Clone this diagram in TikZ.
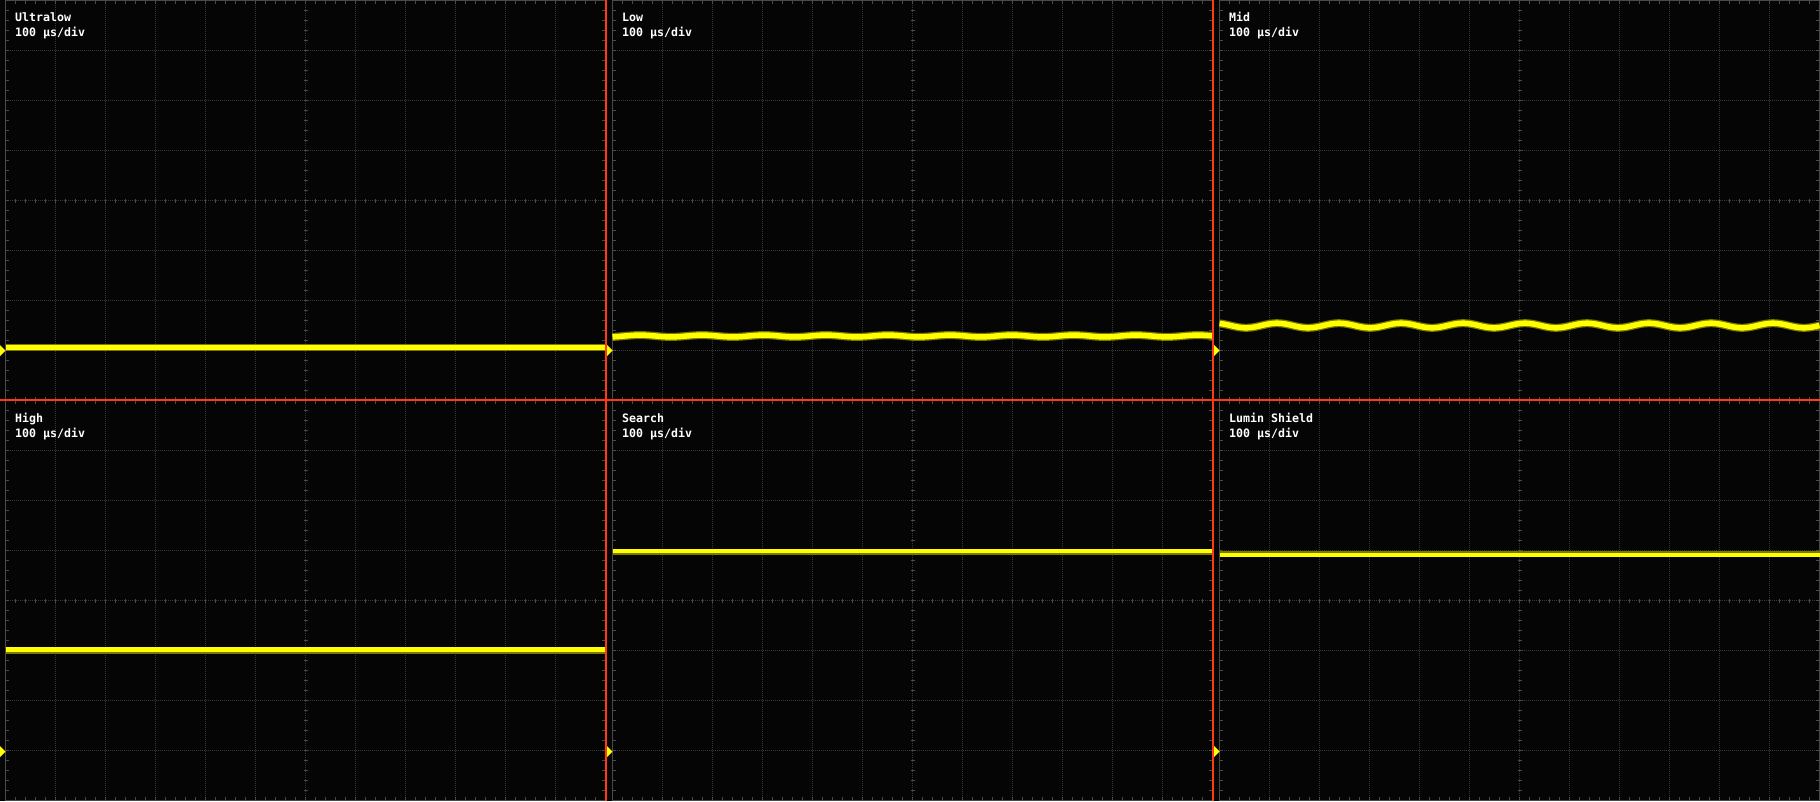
\documentclass[tikz,border=0pt]{standalone}
\usepackage{fontspec}
\newfontfamily\scopefont{DejaVu Sans Mono}
\definecolor{bg}{HTML}{050505}
\definecolor{gridc}{HTML}{363636}
\definecolor{edgec}{HTML}{4A4A4A}
\definecolor{redl}{HTML}{FF3A12}
\definecolor{tracec}{HTML}{FFFF00}
\definecolor{tracedim}{HTML}{7A7A00}
\definecolor{txtc}{HTML}{FFFFFF}
\tikzset{
  gridline/.style={draw=gridc, line width=1pt, dash pattern=on 1pt off 1pt},
  edgeline/.style={draw=edgec, line width=1pt},
  tickline/.style={draw=edgec, line width=1pt},
  divline/.style={draw=redl, line width=1.6pt},
  lbl/.style={anchor=base west, inner sep=0pt, text=txtc, font=\scopefont\bfseries\fontsize{11.6}{14}\selectfont},
  bright/.style={draw=tracec, line width=#1},
  dim/.style={draw=tracedim, line width=#1},
  gndmark/.style={fill=tracec},
}
\newcommand\oscpanel[2]{%
  \draw[gridline] \foreach \k in {1,...,11} { ({#1+50*\k},{#2}) -- ({#1+50*\k},{#2+400}) };
  \draw[gridline] \foreach \k in {1,...,7} { ({#1},{#2+50*\k}) -- ({#1+600},{#2+50*\k}) };
  \draw[tickline] \foreach \k in {1,...,59} {
      ({#1+10*\k},{#2}) -- ++(0,3.5)
      ({#1+10*\k},{#2+400}) -- ++(0,-3.5)
      ({#1+10*\k},{#2+198}) -- ++(0,4) };
  \draw[tickline] \foreach \k in {1,...,39} {
      ({#1},{#2+10*\k}) -- ++(3.5,0)
      ({#1+600},{#2+10*\k}) -- ++(-3.5,0)
      ({#1+298},{#2+10*\k}) -- ++(4,0) };
  \draw[edgeline] ({#1},{#2}) rectangle ({#1+600},{#2+400});
}
\begin{document}
\begin{tikzpicture}[x=1pt,y=-1pt]
\useasboundingbox (0,0) rectangle (1820,801);
\fill[bg] (0,0) rectangle (1820,801);
% panels
\oscpanel{5.5}{0.5}
\oscpanel{612.5}{0.5}
\oscpanel{1219.5}{0.5}
\oscpanel{5.5}{400.5}
\oscpanel{612.5}{400.5}
\oscpanel{1219.5}{400.5}
% traces
\draw[dim=7pt] (5.5,347) -- (605.5,347);
\draw[bright=5pt] (5.5,347) -- (605.5,347);
\draw[dim=8pt] plot[domain=612.5:1212.5, samples=250] (\x, {336 - 0.9*cos(5.80645*(\x-640))});
\draw[bright=5.5pt] plot[domain=612.5:1212.5, samples=250] (\x, {336 - 0.9*cos(5.80645*(\x-640))});
\draw[dim=8pt] plot[domain=1219.5:1819.5, samples=300] (\x, {325.5 - 2.3*cos(5.80645*(\x-1277))});
\draw[bright=5.5pt] plot[domain=1219.5:1819.5, samples=300] (\x, {325.5 - 2.3*cos(5.80645*(\x-1277))});
\draw[dim=6pt] (5.5,650.5) -- (605.5,650.5);
\draw[bright=4.5pt] (5.5,649.5) -- (605.5,649.5);
\draw[dim=6pt] (612.5,552) -- (1212.5,552);
\draw[bright=4pt] (612.5,551) -- (1212.5,551);
\draw[dim=6pt] (1219.5,553.5) -- (1819.5,553.5);
\draw[bright=4pt] (1219.5,554.8) -- (1819.5,554.8);
% dividers
\coordinate (vtop1) at (606,0);
\coordinate (vbot1) at (606,801);
\coordinate (vtop2) at (1213.2,0);
\coordinate (vbot2) at (1213.2,801);
\coordinate (hl) at (0,400);
\coordinate (hr) at (1820,400);
\draw[divline] (vtop1) -- (vbot1);
\draw[divline] (vtop2) -- (vbot2);
\draw[divline] (hl) -- (hr);
% ground markers
\fill[gndmark] (0,345) -- (5.5,350.5) -- (0,356) -- cycle;
\fill[gndmark] (607,345) -- (612.5,350.5) -- (607,356) -- cycle;
\fill[gndmark] (1214,345) -- (1219.5,350.5) -- (1214,356) -- cycle;
\fill[gndmark] (0,746) -- (5.5,751.5) -- (0,757) -- cycle;
\fill[gndmark] (607,746) -- (612.5,751.5) -- (607,757) -- cycle;
\fill[gndmark] (1214,746) -- (1219.5,751.5) -- (1214,757) -- cycle;
% labels
\node[lbl] (n1a) at (15,21.7) {Ultralow};
\node[lbl] (n1b) at (15,36.7) {100 µs/div};
\node[lbl] (n2a) at (622,21.7) {Low};
\node[lbl] (n2b) at (622,36.7) {100 µs/div};
\node[lbl] (n3a) at (1229,21.7) {Mid};
\node[lbl] (n3b) at (1229,36.7) {100 µs/div};
\node[lbl] (n4a) at (15,422.2) {High};
\node[lbl] (n4b) at (15,437.2) {100 µs/div};
\node[lbl] (n5a) at (622,422.2) {Search};
\node[lbl] (n5b) at (622,437.2) {100 µs/div};
\node[lbl] (n6a) at (1229,422.2) {Lumin Shield};
\node[lbl] (n6b) at (1229,437.2) {100 µs/div};
\end{tikzpicture}
\end{document}
